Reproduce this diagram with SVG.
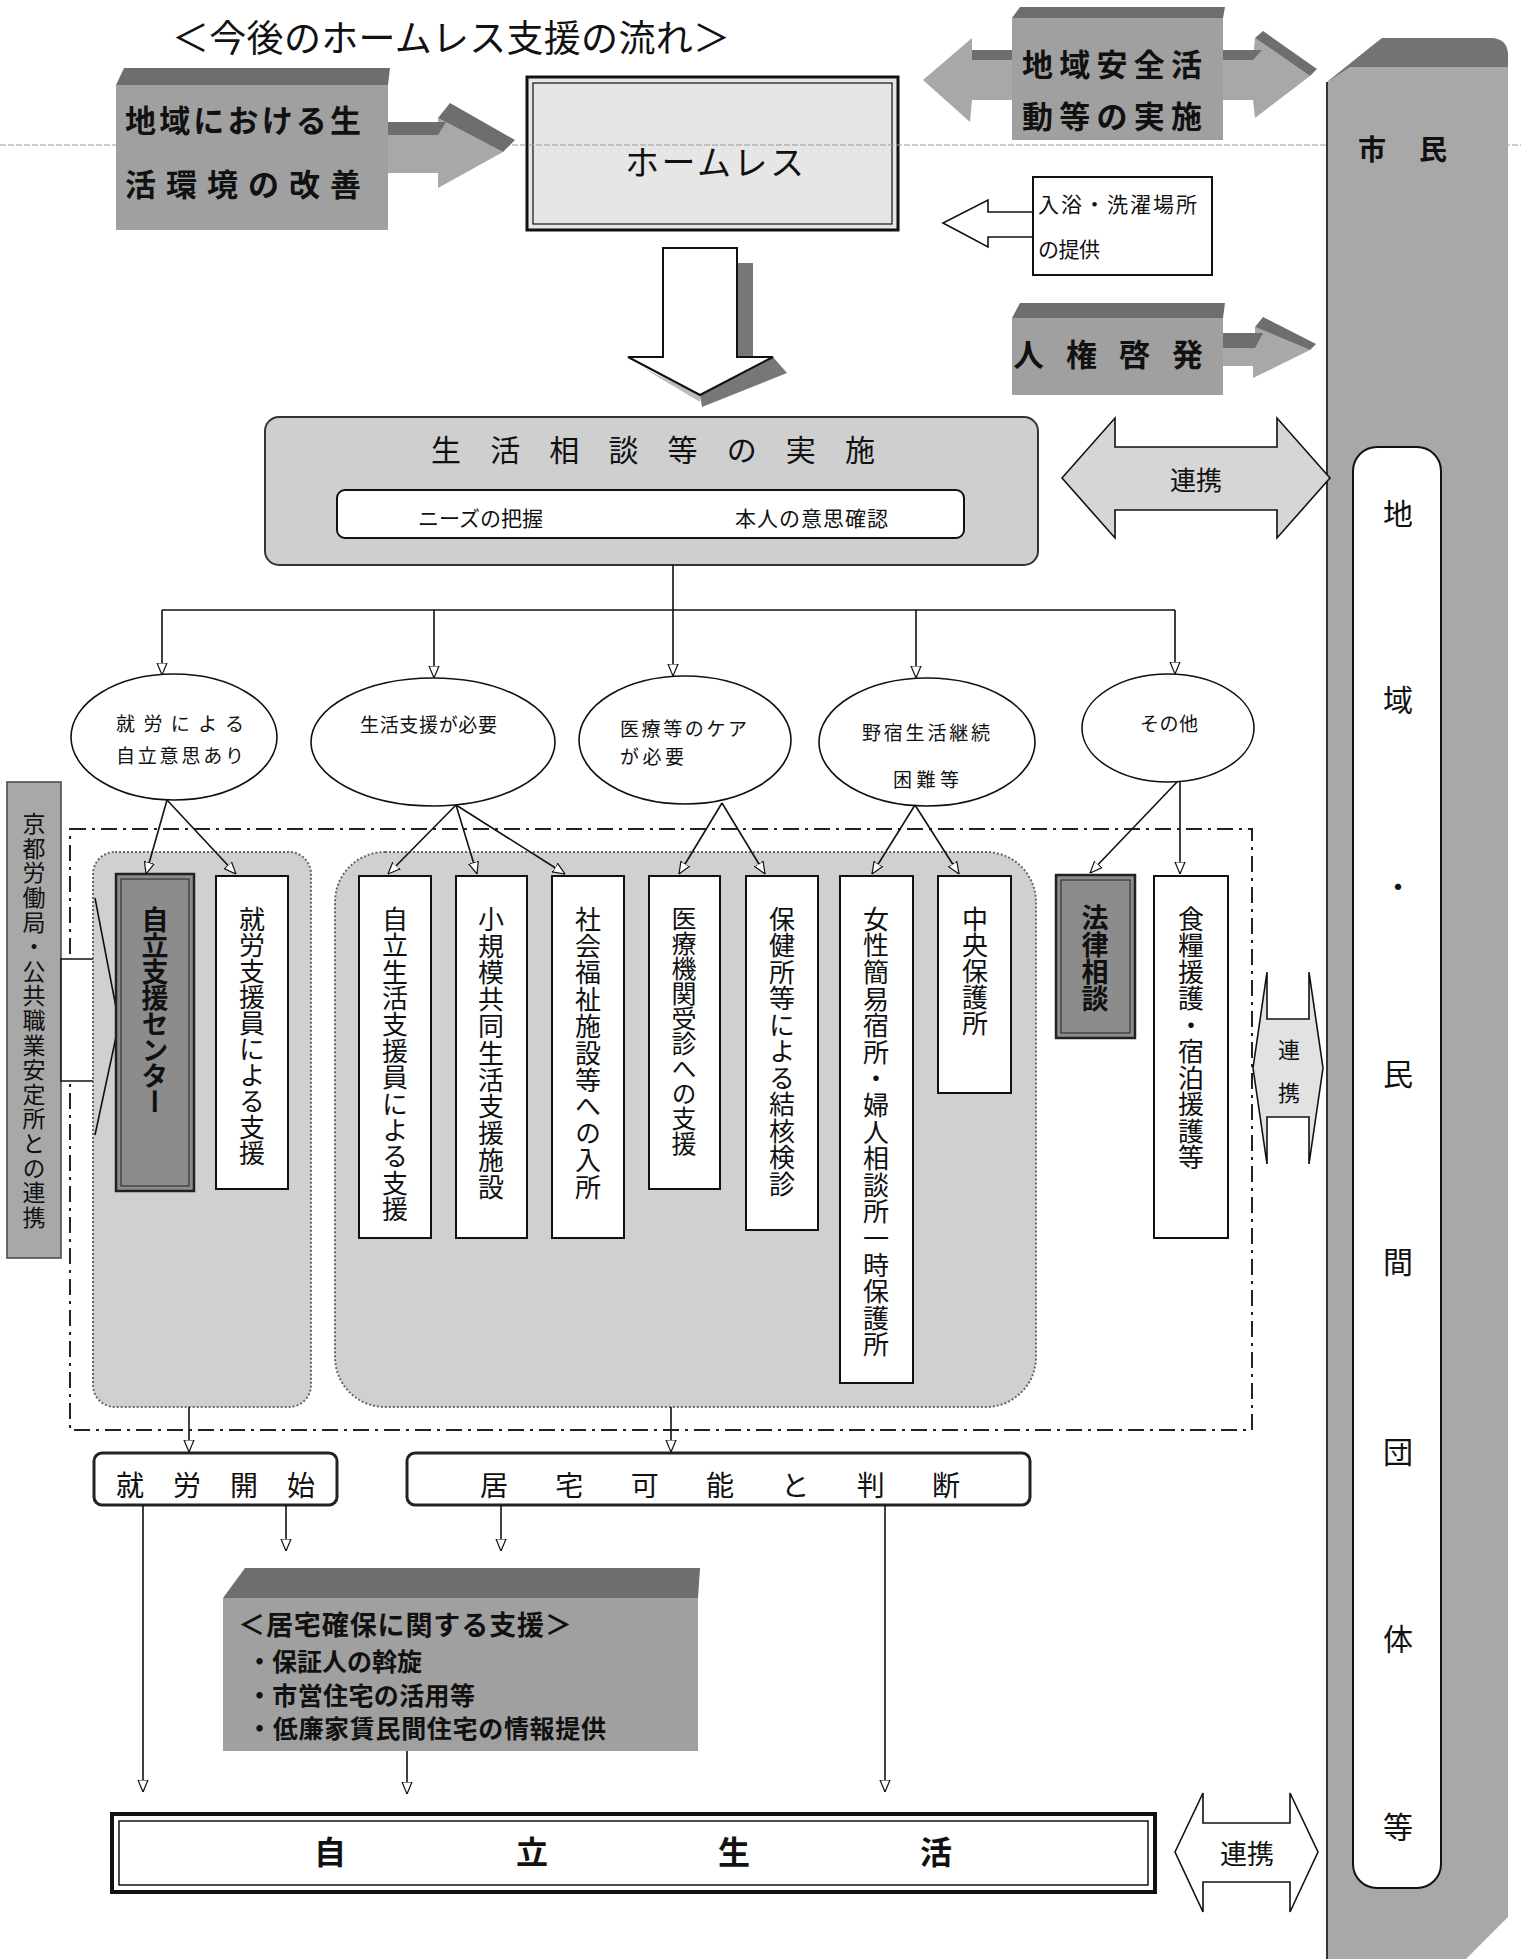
<svg xmlns="http://www.w3.org/2000/svg" width="1521" height="1959" viewBox="0 0 1521 1959">
<defs>
<style>
text { font-family: "Noto Sans CJK JP", "Noto Sans", sans-serif; fill: #111; dominant-baseline: central; }
.b { font-weight: bold; }
.v { writing-mode: vertical-rl; text-orientation: upright; }
.wb { fill: #fff; stroke: #111; stroke-width: 2; }
.db { fill: #8c8c8c; stroke: #222; stroke-width: 2.5; }
.g3 { fill: #a0a0a0; }
.bev { fill: #6e6e6e; }
.ln { fill: none; stroke: #111; stroke-width: 1.6; }
.ell { fill: #fff; stroke: #111; stroke-width: 1.6; }
.grp { fill: #d0d0d0; stroke: #666; stroke-width: 2; stroke-dasharray: 2 2; }
</style>
<marker id="ah" viewBox="0 0 12 12" refX="12" refY="6" markerWidth="12" markerHeight="12" markerUnits="userSpaceOnUse" orient="auto">
<path d="M0,1 L12,6 L0,11 Z" fill="#fff" stroke="#111" stroke-width="1.2"/>
</marker>
</defs>
<rect x="0" y="0" width="1521" height="1959" fill="#fff"/>

<g id="title">
<text x="172" y="36" font-size="37" textLength="558">＜今後のホームレス支援の流れ＞</text>
</g>

<g id="n-homeless">
<rect x="527" y="77" width="371" height="153" fill="#e6e6e6" stroke="#111" stroke-width="3"/>
<rect x="533" y="83" width="359" height="141" fill="none" stroke="#111" stroke-width="1.2"/>
<text x="625" y="160" font-size="34" textLength="179">ホームレス</text>
</g>

<line id="scanline" x1="0" y1="145" x2="1521" y2="145" stroke="#999" stroke-width="1" stroke-dasharray="6 2"/>

<g id="connectors-top">
<polygon points="370,135 438,135 438,118 503,152 438,188 438,173 370,173" fill="#a8a8a8"/>
<polygon points="370,122 446,122 438,135 370,135" fill="#6e6e6e"/>
<polygon points="438,118 450,103 515,140 503,152" fill="#6e6e6e"/>
<polygon points="923,80 972,38 972,60 1253,60 1255,38 1310,76 1255,118 1253,100 972,100 970,122" fill="#a8a8a8"/>
<polygon points="972,50 1262,50 1253,60 972,60" fill="#6e6e6e"/>
<polygon points="1255,38 1263,31 1317,69 1310,76" fill="#6e6e6e"/>
<polygon points="1223,348 1255,348 1255,327 1310,350 1253,378 1253,366 1223,366" fill="#a8a8a8"/>
<polygon points="1223,333 1263,333 1255,348 1223,348" fill="#6e6e6e"/>
<polygon points="1255,327 1263,317 1316,344 1310,350" fill="#6e6e6e"/>
<polygon points="1033,212 988,212 988,200 943,223 988,247 988,237 1033,237" fill="#fff" stroke="#111" stroke-width="1.6"/>
<polygon points="737,263 753,263 753,357 737,357" fill="#777"/>
<polygon points="773,357 787,373 702,407 700,395" fill="#777"/>
<polygon points="643,368 700,402 700,395" fill="#bbb"/>
<polygon points="663,248 737,248 737,357 773,357 700,395 628,357 663,357" fill="#fff" stroke="#111" stroke-width="2"/>
</g>

<g id="n-kankyo">
<polygon class="bev" points="116,85 124,68 390,68 388,85"/>
<rect class="g3" x="116" y="85" width="272" height="145"/>
<text class="b" x="125" y="118" font-size="31" textLength="236">地域における生</text>
<text class="b" x="125" y="182" font-size="31" textLength="236">活環境の改善</text>
</g>

<g id="n-anzen">
<polygon class="bev" points="1012,18 1020,7 1225,7 1223,18"/>
<rect class="g3" x="1012" y="18" width="211" height="122"/>
<text class="b" x="1022" y="62" font-size="31" textLength="180">地域安全活</text>
<text class="b" x="1022" y="114" font-size="31" textLength="180">動等の実施</text>
</g>

<g id="n-nyuyoku">
<rect class="wb" x="1033" y="177" width="179" height="98" stroke-width="1.6"/>
<text x="1038" y="203" font-size="21" textLength="159">入浴・洗濯場所</text>
<text x="1038" y="248" font-size="21" textLength="62">の提供</text>
</g>

<g id="n-jinken">
<polygon class="bev" points="1012,318 1020,303 1225,303 1223,318"/>
<rect class="g3" x="1012" y="318" width="211" height="77"/>
<text class="b" x="1013" y="352" font-size="31" textLength="190">人権啓発</text>
</g>

<g id="n-shimin">
<path d="M1327,82 L1382,38 L1490,38 Q1508,38 1508,56 L1508,1917 L1466,1959 L1327,1959 Z" fill="#a8a8a8"/>
<path d="M1327,82 L1382,38 L1490,38 Q1508,38 1508,56 L1508,67 L1350,67 Z" fill="#737373"/>
<line x1="1327" y1="82" x2="1327" y2="1959" stroke="#333" stroke-width="2"/>
<text class="b" x="1372" y="148" font-size="28" text-anchor="middle">市</text>
<text class="b" x="1433" y="148" font-size="28" text-anchor="middle">民</text>
</g>

<g id="n-chiiki">
<rect x="1353" y="447" width="88" height="1441" rx="24" fill="#fff" stroke="#111" stroke-width="2"/>
<text font-size="30" text-anchor="middle"><tspan x="1398" y="512">地</tspan><tspan x="1398" y="698">域</tspan><tspan x="1398" y="885">・</tspan><tspan x="1398" y="1072">民</tspan><tspan x="1398" y="1260">間</tspan><tspan x="1398" y="1450">団</tspan><tspan x="1398" y="1637">体</tspan><tspan x="1398" y="1825">等</tspan></text>
</g>

<g id="n-soudan">
<rect x="265" y="417" width="773" height="148" rx="14" fill="#cfcfcf" stroke="#333" stroke-width="2"/>
<text x="431" y="448" font-size="30" textLength="444">生活相談等の実施</text>
<rect x="337" y="490" width="627" height="48" rx="8" fill="#fff" stroke="#111" stroke-width="2"/>
<text x="418" y="517" font-size="21" textLength="125">ニーズの把握</text>
<text x="735" y="517" font-size="21" textLength="153">本人の意思確認</text>
</g>

<g id="n-renkei1">
<polygon points="1062,478 1115,418 1115,447 1277,447 1277,418 1330,478 1277,538 1277,510 1115,510 1115,538" fill="#d6d6d6" stroke="#111" stroke-width="1.6"/>
<text x="1196" y="478" font-size="26" text-anchor="middle">連携</text>
</g>

<g id="e1">
<ellipse class="ell" cx="174" cy="737" rx="103" ry="63"/>
<text x="116" y="722" font-size="19" textLength="128">就労による</text>
<text x="116" y="754" font-size="19" textLength="128">自立意思あり</text>
</g>
<g id="e2">
<ellipse class="ell" cx="433" cy="742" rx="122" ry="64"/>
<text x="360" y="723" font-size="19" textLength="137">生活支援が必要</text>
</g>
<g id="e3">
<ellipse class="ell" cx="685" cy="740" rx="106" ry="64"/>
<text x="620" y="727" font-size="19" textLength="127">医療等のケア</text>
<text x="620" y="755" font-size="19" textLength="64">が必要</text>
</g>
<g id="e4">
<ellipse class="ell" cx="927" cy="742" rx="108" ry="64"/>
<text x="862" y="731" font-size="19" textLength="128">野宿生活継続</text>
<text x="893" y="778" font-size="19" textLength="66">困難等</text>
</g>
<g id="e5">
<ellipse class="ell" cx="1168" cy="728" rx="86" ry="54"/>
<text x="1140" y="722" font-size="19" textLength="58">その他</text>
</g>

<rect id="frame" x="70" y="829" width="1182" height="601" fill="none" stroke="#222" stroke-width="2" stroke-dasharray="16 6 3 6"/>

<g id="n-kyoto">
<rect x="7" y="782" width="54" height="476" fill="#a8a8a8" stroke="#444" stroke-width="1.5"/>
<text class="v" x="34" y="812" font-size="23" letter-spacing="1.6">京都労働局・公共職業安定所との連携</text>
</g>
<polygon id="kyoto-arrow" points="61,959 95,959 95,898 119,1023 95,1135 95,1081 61,1081" fill="#fff" stroke="#111" stroke-width="1.6"/>

<g id="grpA"><rect class="grp" x="93" y="852" width="218" height="555" rx="22"/></g>
<g id="grpB"><rect class="grp" x="335" y="852" width="701" height="555" rx="50"/></g>
<polyline points="95,898 119,1023 95,1135" class="ln"/>

<g id="b1">
<rect class="db" x="116" y="874" width="78" height="317"/>
<rect x="121" y="879" width="68" height="307" fill="none" stroke="#222" stroke-width="1"/>
<text class="v b" x="155" y="906" font-size="27" letter-spacing="-1">自立支援センター</text>
</g>
<g id="b2"><rect class="wb" x="216" y="876" width="72" height="313"/><text class="v" x="252" y="906" font-size="26">就労支援員による支援</text></g>
<g id="b3"><rect class="wb" x="359" y="876" width="72" height="362"/><text class="v" x="395" y="906" font-size="26" letter-spacing="0.4">自立生活支援員による支援</text></g>
<g id="b4"><rect class="wb" x="456" y="876" width="71" height="362"/><text class="v" x="491" y="906" font-size="26" letter-spacing="0.8">小規模共同生活支援施設</text></g>
<g id="b5"><rect class="wb" x="552" y="876" width="72" height="362"/><text class="v" x="588" y="906" font-size="26" letter-spacing="0.8">社会福祉施設等への入所</text></g>
<g id="b6"><rect class="wb" x="649" y="876" width="71" height="313"/><text class="v" x="684" y="906" font-size="25">医療機関受診への支援</text></g>
<g id="b7"><rect class="wb" x="746" y="876" width="72" height="354"/><text class="v" x="782" y="906" font-size="26" letter-spacing="0.5">保健所等による結核検診</text></g>
<g id="b8"><rect class="wb" x="840" y="876" width="73" height="507"/><text class="v" x="876" y="906" font-size="26" letter-spacing="0.6">女性簡易宿所・婦人相談所一時保護所</text></g>
<g id="b9"><rect class="wb" x="938" y="876" width="73" height="217"/><text class="v" x="975" y="906" font-size="26">中央保護所</text></g>
<g id="b10">
<rect class="db" x="1056" y="875" width="79" height="163"/>
<rect x="1061" y="880" width="69" height="153" fill="none" stroke="#222" stroke-width="1"/>
<text class="v b" x="1095" y="904" font-size="27">法律相談</text>
</g>
<g id="b11"><rect class="wb" x="1154" y="876" width="74" height="362"/><text class="v" x="1191" y="906" font-size="26" letter-spacing="0.5">食糧援護・宿泊援護等</text></g>

<g id="n-renkei2">
<polygon points="1253,1068 1267,972 1267,1019 1309,1019 1309,972 1323,1068 1309,1164 1309,1117 1267,1117 1267,1164" fill="#e2e2e2" stroke="#111" stroke-width="1.6"/>
<text class="v" x="1289" y="1039" font-size="22" letter-spacing="21">連携</text>
</g>

<g id="n-shuro">
<rect x="94" y="1453" width="243" height="52" rx="8" fill="#fff" stroke="#222" stroke-width="3"/>
<text x="116" y="1484" font-size="28" textLength="199">就労開始</text>
</g>
<g id="n-kyotaku">
<rect x="407" y="1453" width="623" height="52" rx="8" fill="#fff" stroke="#222" stroke-width="3"/>
<text x="480" y="1484" font-size="28" textLength="480">居宅可能と判断</text>
</g>

<g id="n-kakuho">
<polygon class="bev" points="223,1598 245,1568 700,1568 698,1598"/>
<rect class="g3" x="223" y="1598" width="475" height="153"/>
<text class="b" x="238" y="1623" font-size="27" textLength="334">＜居宅確保に関する支援＞</text>
<text class="b" x="247" y="1660" font-size="25" textLength="175">・保証人の斡旋</text>
<text class="b" x="247" y="1694" font-size="25" textLength="228">・市営住宅の活用等</text>
<text class="b" x="247" y="1727" font-size="25" textLength="359">・低廉家賃民間住宅の情報提供</text>
</g>

<g id="n-jiritsu">
<rect x="112" y="1814" width="1043" height="78" fill="#fff" stroke="#111" stroke-width="4"/>
<rect x="119" y="1821" width="1029" height="64" fill="none" stroke="#111" stroke-width="1.5"/>
<text class="b" x="314" y="1850" font-size="32" textLength="638">自立生活</text>
</g>

<g id="n-renkei3">
<polygon points="1175,1852 1203,1793 1203,1823 1290,1823 1290,1793 1318,1852 1290,1912 1290,1882 1203,1882 1203,1912" fill="#fff" stroke="#111" stroke-width="1.6"/>
<text x="1247" y="1852" font-size="27" text-anchor="middle">連携</text>
</g>

<g id="connectors">
<line class="ln" x1="673" y1="565" x2="673" y2="610"/>
<line class="ln" x1="162" y1="610" x2="1175" y2="610"/>
<line class="ln" x1="162" y1="610" x2="162" y2="675" marker-end="url(#ah)"/>
<line class="ln" x1="434" y1="610" x2="434" y2="678" marker-end="url(#ah)"/>
<line class="ln" x1="673" y1="610" x2="673" y2="676" marker-end="url(#ah)"/>
<line class="ln" x1="916" y1="610" x2="916" y2="678" marker-end="url(#ah)"/>
<line class="ln" x1="1175" y1="610" x2="1175" y2="674" marker-end="url(#ah)"/>
<line class="ln" x1="167" y1="800" x2="146" y2="874" marker-end="url(#ah)"/>
<line class="ln" x1="167" y1="800" x2="236" y2="874" marker-end="url(#ah)"/>
<line class="ln" x1="456" y1="805" x2="388" y2="874" marker-end="url(#ah)"/>
<line class="ln" x1="456" y1="805" x2="477" y2="874" marker-end="url(#ah)"/>
<line class="ln" x1="456" y1="805" x2="565" y2="874" marker-end="url(#ah)"/>
<line class="ln" x1="722" y1="803" x2="679" y2="874" marker-end="url(#ah)"/>
<line class="ln" x1="722" y1="803" x2="765" y2="874" marker-end="url(#ah)"/>
<line class="ln" x1="915" y1="805" x2="872" y2="874" marker-end="url(#ah)"/>
<line class="ln" x1="915" y1="805" x2="959" y2="874" marker-end="url(#ah)"/>
<line class="ln" x1="1177" y1="782" x2="1090" y2="873" marker-end="url(#ah)"/>
<line class="ln" x1="1180" y1="782" x2="1180" y2="874" marker-end="url(#ah)"/>
<line class="ln" x1="189" y1="1407" x2="189" y2="1452" marker-end="url(#ah)"/>
<line class="ln" x1="671" y1="1407" x2="671" y2="1452" marker-end="url(#ah)"/>
<line class="ln" x1="143" y1="1505" x2="143" y2="1792" marker-end="url(#ah)"/>
<line class="ln" x1="286" y1="1505" x2="286" y2="1551" marker-end="url(#ah)"/>
<line class="ln" x1="501" y1="1505" x2="501" y2="1551" marker-end="url(#ah)"/>
<line class="ln" x1="885" y1="1505" x2="885" y2="1792" marker-end="url(#ah)"/>
<line class="ln" x1="407" y1="1751" x2="407" y2="1794" marker-end="url(#ah)"/>
</g>
</svg>
